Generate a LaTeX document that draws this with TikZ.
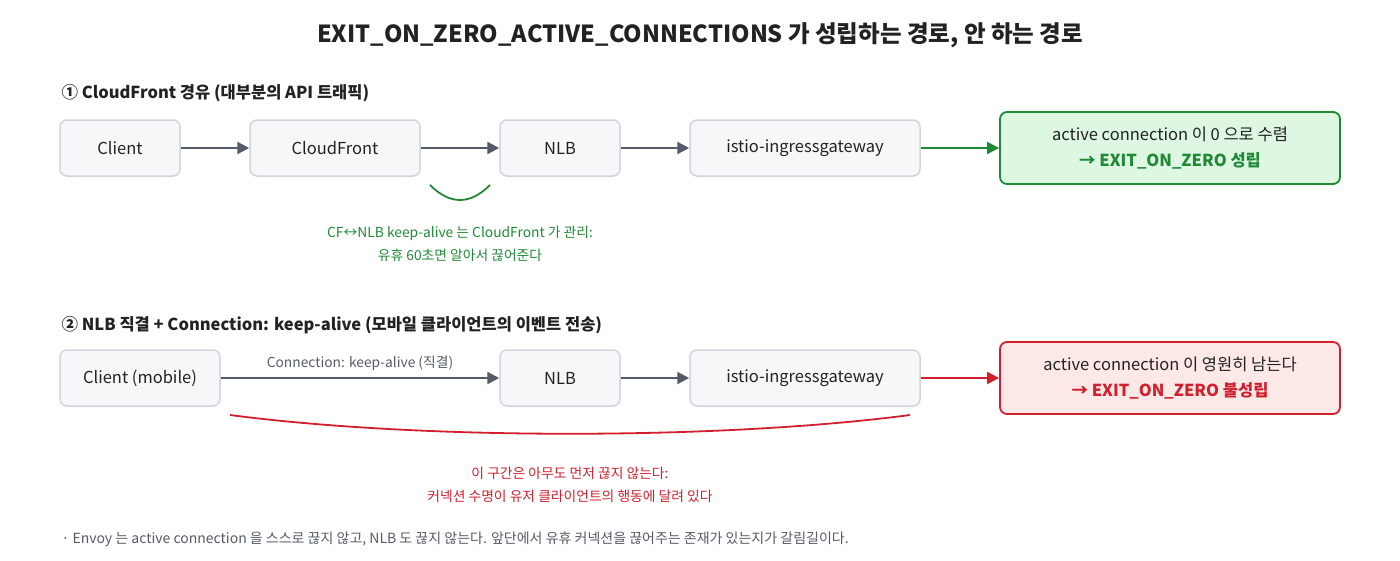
\documentclass[tikz,border=0pt]{standalone}
\usepackage{fontspec}
\setmainfont{Noto Sans CJK KR}
\usetikzlibrary{arrows.meta}
\definecolor{boxfill}{HTML}{F6F7F9}
\definecolor{boxline}{HTML}{D0D5DD}
\definecolor{txt}{HTML}{222222}
\definecolor{arrowgray}{HTML}{555B66}
\definecolor{okgreen}{HTML}{1F8A35}
\definecolor{okfill}{HTML}{DDF7E2}
\definecolor{badred}{HTML}{D21F2D}
\definecolor{badfill}{HTML}{FDE8E8}
\definecolor{notegray}{HTML}{555B66}
\tikzset{
  box/.style={draw=boxline, fill=boxfill, line width=1.5pt, rounded corners=7pt, minimum height=56pt, text=txt, font=\fontsize{16.5}{19}\selectfont, inner sep=0pt},
  okbox/.style={draw=okgreen, fill=okfill, line width=1.8pt, rounded corners=7pt, minimum width=340pt, minimum height=72pt, text=txt, font=\fontsize{16.5}{19}\selectfont, align=center, inner sep=0pt},
  badbox/.style={draw=badred, fill=badfill, line width=1.8pt, rounded corners=7pt, minimum width=340pt, minimum height=72pt, text=txt, font=\fontsize{16.5}{19}\selectfont, align=center, inner sep=0pt},
  flow/.style={draw=arrowgray, line width=2.2pt, -{Triangle[length=12pt,width=12pt]}},
  okflow/.style={draw=okgreen, line width=2.2pt, -{Triangle[length=12pt,width=12pt]}},
  badflow/.style={draw=badred, line width=2.2pt, -{Triangle[length=12pt,width=12pt]}},
  header/.style={anchor=west, text=txt, font=\fontsize{16.5}{19}\selectfont\bfseries},
  note/.style={align=center, font=\fontsize{13.8}{23}\selectfont},
}
\begin{document}
\begin{tikzpicture}[x=1pt,y=-1pt]
\useasboundingbox (0,0) rectangle (1400,560);
\node[text=txt, font=\fontsize{23.5}{27}\selectfont\bfseries] (title) at (700,35) {EXIT\_ON\_ZERO\_ACTIVE\_CONNECTIONS 가 성립하는 경로, 안 하는 경로};

% Row 1
\node[header] (h1) at (58,93) {① CloudFront 경유 (대부분의 API 트래픽)};
\node[box, minimum width=120pt] (a1) at (120,148) {Client};
\node[box, minimum width=170pt] (a2) at (335,148) {CloudFront};
\node[box, minimum width=120pt] (a3) at (560,148) {NLB};
\node[box, minimum width=230pt] (a4) at (805,148) {istio-ingressgateway};
\node[okbox] (a5) at (1170,148) {active connection 이 0 으로 수렴\\[7pt]{\color{okgreen}\bfseries → EXIT\_ON\_ZERO 성립}};
\draw[flow] (a1) -- (a2);
\draw[flow] (a2) -- (a3);
\draw[flow] (a3) -- (a4);
\draw[okflow] (a4) -- (a5);
\coordinate (g1) at (430,185);
\coordinate (g2) at (490,185);
\draw[okgreen, line width=1.8pt] (g1) .. controls (450,205) and (470,205) .. (g2);
\node[note, text=okgreen] (gn) at (460,244) {CF↔NLB keep-alive 는 CloudFront 가 관리:\\유휴 60초면 알아서 끊어준다};

% Row 2
\node[header] (h2) at (58,325) {② NLB 직결 + Connection: keep-alive (모바일 클라이언트의 이벤트 전송)};
\node[box, minimum width=160pt] (b1) at (140,378) {Client (mobile)};
\node[box, minimum width=120pt] (b3) at (560,378) {NLB};
\node[box, minimum width=230pt] (b4) at (805,378) {istio-ingressgateway};
\node[badbox] (b5) at (1170,378) {active connection 이 영원히 남는다\\[7pt]{\color{badred}\bfseries → EXIT\_ON\_ZERO 불성립}};
\draw[flow] (b1) -- node[above=3pt, text=notegray, font=\fontsize{13.8}{15}\selectfont] (bl) {Connection: keep-alive (직결)} (b3);
\draw[flow] (b3) -- (b4);
\draw[badflow] (b4) -- (b5);
\coordinate (r1) at (230,415);
\coordinate (r2) at (910,415);
\draw[badred, line width=1.8pt] (r1) .. controls (420,440) and (720,440) .. (r2);
\node[note, text=badred] (rn) at (570,485) {이 구간은 아무도 먼저 끊지 않는다:\\커넥션 수명이 유저 클라이언트의 행동에 달려 있다};

\node[anchor=west, text=notegray, font=\fontsize{14}{16}\selectfont] (foot) at (58,539) {· Envoy 는 active connection 을 스스로 끊지 않고, NLB 도 끊지 않는다. 앞단에서 유휴 커넥션을 끊어주는 존재가 있는지가 갈림길이다.};
\end{tikzpicture}
\end{document}
